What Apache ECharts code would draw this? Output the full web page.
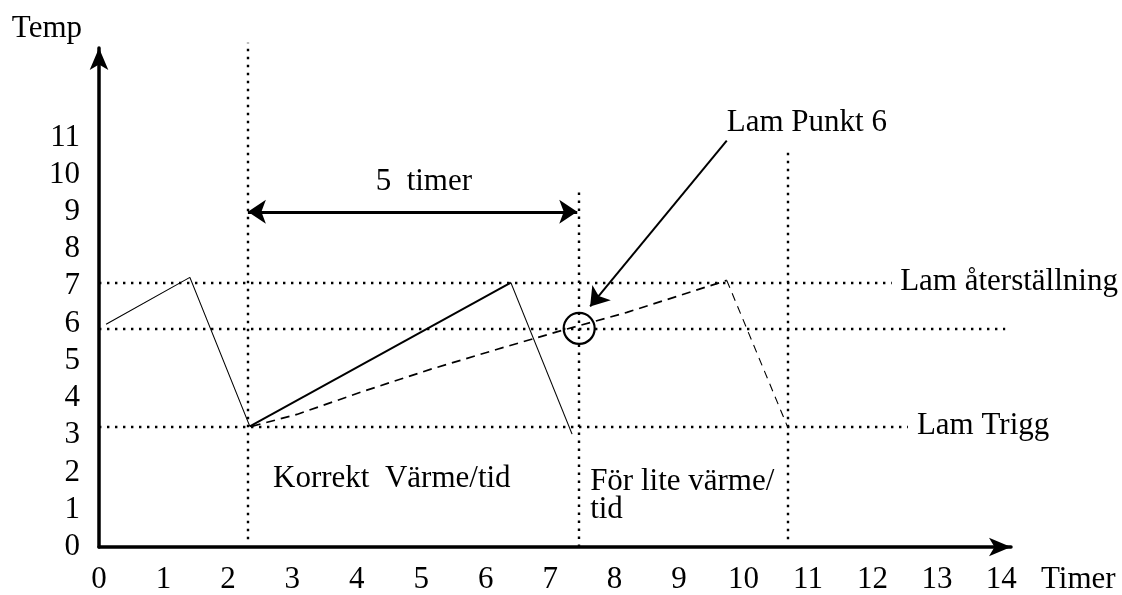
<!DOCTYPE html>
<html>
<head>
<meta charset="utf-8">
<script src="https://cdn.jsdelivr.net/npm/echarts@6/dist/echarts.min.js"></script>
<style>
html,body{margin:0;padding:0;background:#fff;}
#chart{width:1122px;height:595px;}
</style>
</head>
<body>
<div id="chart"></div>
<script>
// ---- data ----
const xTicks = [0,1,2,3,4,5,6,7,8,9,10,11,12,13,14];
const yTicks = [0,1,2,3,4,5,6,7,8,9,10,11];
const xName = 'Timer';
const yName = 'Temp';

// correct heating: thin ramp, thick ramp, thin drop
const solidFirst = [[0.11,5.98],[1.41,7.24],[2.34,3.24]];
const solidRise = [[2.34,3.24],[6.39,7.10]];
const solidDrop = [[6.39,7.10],[7.34,3.03]];
// too little heat: dashed
const dashedRise = [[2.37,3.24],[3.07,3.56],[4.10,4.18],[5.14,4.77],[6.18,5.31],[7.23,5.84],[8.19,6.30],[9.74,7.16]];
const dashedDrop = [[9.74,7.16],[10.68,3.24]];

// dotted guide lines
const hGuideY = [7.10, 5.87, 3.24];
const hGuideEnd = [12.30, 14.06, 12.55];
const vGuideX = [2.31, 7.45, 10.69];
const vGuideTop = [13.54, 9.54, 10.61];
const vGuideBottom = [0.21, 0, 0.21];

// annotations
const circlePoint = [7.45, 5.87];
const spanArrow = [[2.31, 9.0], [7.42, 9.0]];
const pointerArrow = [[9.74, 10.91], [7.62, 6.46]];
const noteTexts = ['5  timer', 'Lam Punkt 6', 'Lam återställning', 'Lam Trigg', 'Korrekt  Värme/tid', 'För lite värme/\ntid'];
const notePos = [[5.04, 9.81], [9.74, 11.39], [12.43, 7.13], [12.69, 3.24], [2.70, 1.82], [7.62, 1.37]];
const noteAlign = ['center', 'left', 'left', 'left', 'left', 'left'];

// ---- chart ----
const FONT = 'Liberation Serif';
const FS = 31;
const chart = echarts.init(document.getElementById('chart'), null, {renderer: 'canvas'});

const guideData = [];
hGuideY.forEach((y, i) => guideData.push({coords: [[0, y], [hGuideEnd[i], y]]}));
vGuideX.forEach((x, i) => guideData.push({coords: [[x, vGuideBottom[i]], [x, vGuideTop[i]]]}));

const lineSeries = (data, width, type) => ({
  type: 'line', data: data, showSymbol: false, symbol: 'none', silent: true,
  lineStyle: {color: '#000', width: width, type: type, opacity: 1}, z: 3
});

const option = {
  animation: false,
  backgroundColor: '#fff',
  grid: {left: 99, top: 48, width: 912, height: 500, containLabel: false},
  xAxis: {
    type: 'value', min: 0, max: 14.15,
    name: xName, nameLocation: 'end', nameGap: 30,
    nameTextStyle: {fontFamily: FONT, fontSize: FS, color: '#000', verticalAlign: 'top', padding: [17, 0, 0, 0]},
    axisLine: {show: true, symbol: ['none', 'arrow'], symbolSize: [14, 22], lineStyle: {color: '#000', width: 3.5}},
    axisTick: {show: false},
    splitLine: {show: false},
    axisLabel: {customValues: xTicks, fontFamily: FONT, fontSize: FS, color: '#000', margin: 17}
  },
  yAxis: {
    type: 'value', min: 0, max: 13.4,
    name: yName, nameLocation: 'end', nameGap: 4,
    nameTextStyle: {fontFamily: FONT, fontSize: FS, color: '#000', align: 'right', padding: [0, 17, 0, 0]},
    axisLine: {show: true, symbol: ['none', 'arrow'], symbolSize: [14, 22], lineStyle: {color: '#000', width: 3.5}},
    axisTick: {show: false},
    splitLine: {show: false},
    axisLabel: {customValues: yTicks, fontFamily: FONT, fontSize: FS, color: '#000', margin: 19}
  },
  series: [
    {
      type: 'lines', coordinateSystem: 'cartesian2d', silent: true, clip: false, z: 1,
      lineStyle: {color: '#000', width: 2.4, type: [2.4, 5.6], opacity: 1, cap: 'butt'},
      data: guideData
    },
    lineSeries(solidFirst, 1.1, 'solid'),
    lineSeries(solidRise, 2, 'solid'),
    lineSeries(solidDrop, 1.1, 'solid'),
    lineSeries(dashedRise, 1.7, [9, 6]),
    lineSeries(dashedDrop, 1.1, [8, 6]),
    {
      type: 'lines', coordinateSystem: 'cartesian2d', silent: true, clip: false, z: 4,
      symbol: ['arrow', 'arrow'], symbolSize: 18,
      lineStyle: {color: '#000', width: 3, opacity: 1},
      data: [{coords: spanArrow}]
    },
    {
      type: 'lines', coordinateSystem: 'cartesian2d', silent: true, clip: false, z: 4,
      symbol: ['none', 'arrow'], symbolSize: 18,
      lineStyle: {color: '#000', width: 2, opacity: 1},
      data: [{coords: pointerArrow}]
    },
    {
      type: 'scatter', silent: true, z: 5,
      symbol: 'circle', symbolSize: 31,
      itemStyle: {color: 'rgba(0,0,0,0)', borderColor: '#000', borderWidth: 2.2, opacity: 1},
      data: [circlePoint]
    },
    {
      type: 'scatter', silent: true, z: 6, symbolSize: 0,
      itemStyle: {opacity: 1},
      data: notePos.map((p, i) => ({
        value: p,
        label: {
          show: true, formatter: noteTexts[i], position: [0, 0],
          align: noteAlign[i], verticalAlign: 'middle',
          fontFamily: FONT, fontSize: FS, color: '#000', lineHeight: 28
        }
      }))
    }
  ]
};
chart.setOption(option);
</script>
</body>
</html>
